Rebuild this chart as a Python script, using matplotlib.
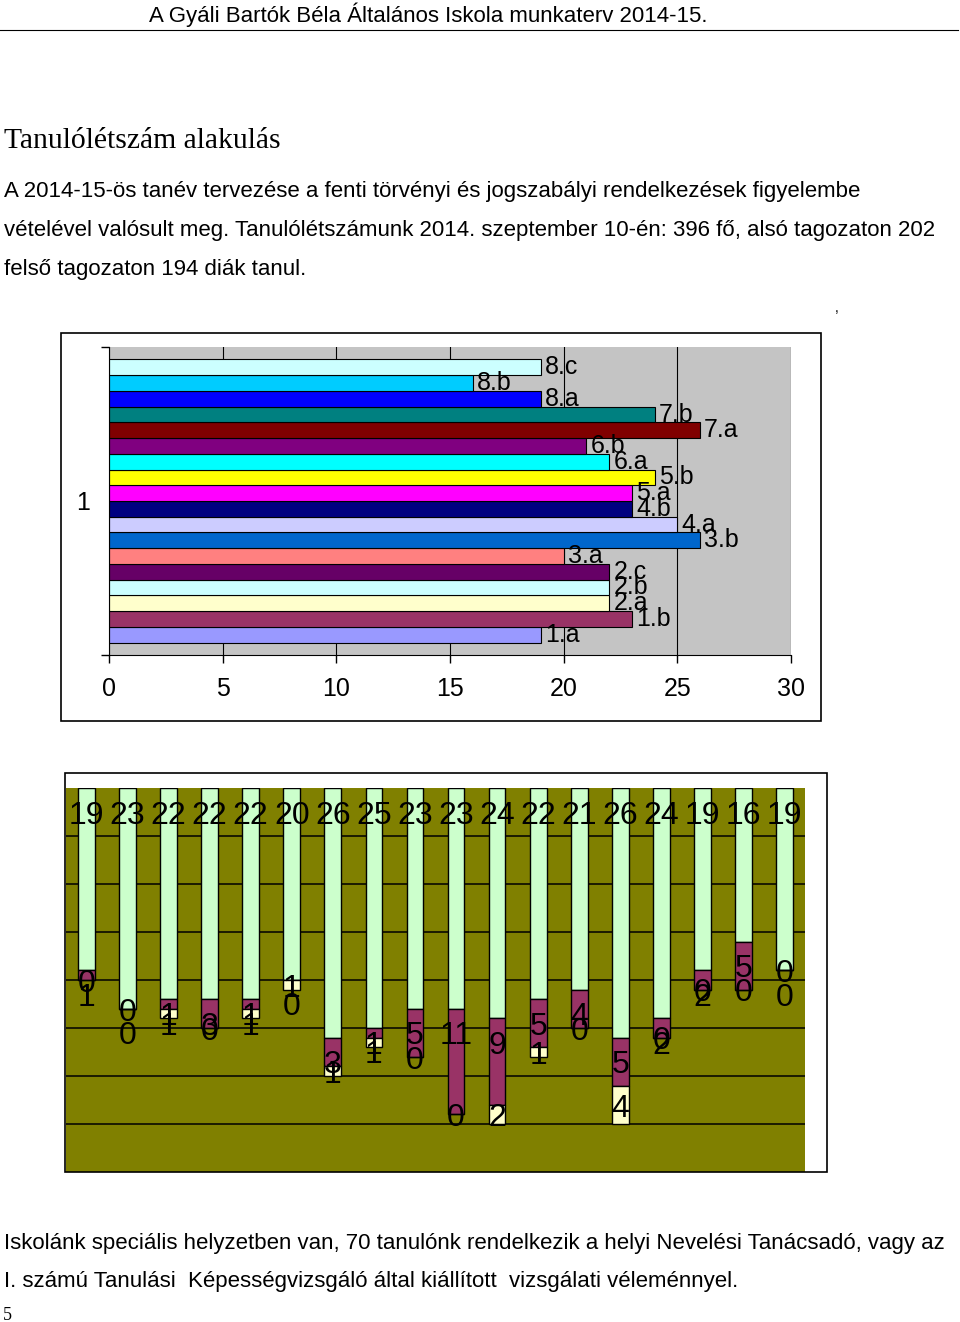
import matplotlib
matplotlib.use('Agg')
import matplotlib.pyplot as plt
import numpy as np
from matplotlib.patches import Rectangle
from matplotlib.lines import Line2D

plt.rcParams['font.family'] = ['Liberation Sans', 'DejaVu Sans']

# data (2014 szeptember, osztalyletszamok)
classes = ['1.a', '1.b', '2.a', '2.b', '2.c', '3.a', '3.b', '4.a', '4.b',
           '5.a', '5.b', '6.a', '6.b', '7.a', '7.b', '8.a', '8.b', '8.c']
letszam = [19, 23, 22, 22, 22, 20, 26, 25, 23, 23, 24, 22, 21, 26, 24, 19, 16, 19]
lila = [1, 0, 1, 3, 1, 0, 3, 1, 5, 11, 9, 5, 4, 5, 2, 2, 5, 0]
sarga = [0, 0, 1, 0, 1, 1, 1, 1, 0, 0, 2, 1, 0, 4, 0, 0, 0, 0]

colors1 = ['#9999FF', '#993366', '#FFFFCC', '#CCFFFF', '#660066', '#FF8080',
           '#0066CC', '#CCCCFF', '#000080', '#FF00FF', '#FFFF00', '#00FFFF',
           '#800080', '#800000', '#008080', '#0000FF', '#00CCFF', '#CCFFFF']

W, H = 960, 1322


def fx(x):
    return x / W


def fy(y):
    return 1 - y / H


fig = plt.figure(figsize=(9.6, 13.22), dpi=100)

# page text
fig.text(fx(428.5), fy(22), 'A Gyáli Bartók Béla Általános Iskola munkaterv 2014-15.',
         ha='center', va='baseline', fontsize=16)
fig.add_artist(Line2D([0, 958 / W], [fy(29.5), fy(29.5)], color='black', lw=0.8))
fig.text(fx(4), fy(148), 'Tanulólétszám alakulás', family='Liberation Serif',
         fontsize=21.3, va='baseline')
para = ['A 2014-15-ös tanév tervezése a fenti törvényi és jogszabályi rendelkezések figyelembe',
        'vételével valósult meg. Tanulólétszámunk 2014. szeptember 10-én: 396 fő, alsó tagozaton 202',
        'felső tagozaton 194 diák tanul.']
for txt, yb in zip(para, [197, 236, 275]):
    fig.text(fx(4), fy(yb), txt, fontsize=16, va='baseline')
fig.text(fx(835), fy(312), ',', fontsize=10, va='baseline')

footer = ['Iskolánk speciális helyzetben van, 70 tanulónk rendelkezik a helyi Nevelési Tanácsadó, vagy az',
          'I. számú Tanulási  Képességvizsgáló által kiállított  vizsgálati véleménnyel.']
for txt, yb in zip(footer, [1249, 1287]):
    fig.text(fx(4), fy(yb), txt, fontsize=16, va='baseline')
fig.text(fx(3), fy(1320), '5', family='Liberation Serif', fontsize=13, va='baseline')

# chart 1 - horizontal bars
fig.add_artist(Rectangle((fx(61), fy(721)), (821 - 61) / W, (721 - 333) / H,
                         transform=fig.transFigure, fill=False, ec='black', lw=1.2))
ax1 = fig.add_axes([fx(109), fy(655), 682 / W, 308 / H])
ax1.set_facecolor('#C4C4C4')
h = 0.919 / len(classes)
for i, (name, v, c) in enumerate(zip(classes, letszam, colors1)):
    yc = -0.4595 + h * (i + 0.5)
    bars = ax1.barh(yc, v, height=h, color=c, edgecolor='black', lw=0.8)
    ax1.bar_label(bars, labels=[name], padding=3, fontsize=18)
ax1.set_xlim(0, 30)
ax1.set_ylim(-0.5, 0.5)
ax1.set_xticks(range(0, 31, 5))
ax1.xaxis.grid(True, color='black', lw=0.8)
ax1.set_axisbelow(True)
ax1.set_yticks([0])
ax1.set_yticklabels(['1'])
ax1.set_yticks([-0.5, 0.5], minor=True)
ax1.tick_params(axis='y', which='major', length=0, pad=14, labelsize=18)
ax1.tick_params(axis='y', which='minor', length=6, width=1)
ax1.tick_params(axis='x', length=6, width=1, pad=10, labelsize=18)
ax1.spines['top'].set_visible(False)
ax1.spines['right'].set_visible(False)

# chart 2 - stacked columns, reversed axis
fig.add_artist(Rectangle((fx(65), fy(1172)), (827 - 65) / W, (1172 - 773) / H,
                         transform=fig.transFigure, fill=False, ec='black', lw=1.2, zorder=5))
ax2 = fig.add_axes([fx(66), fy(1172), 739 / W, 384 / H])
ax2.set_facecolor('#808000')
x = np.arange(len(classes))
g = np.array(letszam)
p = np.array(lila)
s = np.array(sarga)
ax2.bar(x, g, width=0.41, color='#CCFFCC', edgecolor='black', lw=1.0)
ax2.bar(x, p, bottom=g, width=0.41, color='#993366', edgecolor='black', lw=1.0)
ax2.bar(x, s, bottom=g + p, width=0.41, color='#FFFFCC', edgecolor='black', lw=1.0)
for i in range(len(classes)):
    ax2.text(i, 2.9, str(g[i]), ha='center', va='center', fontsize=23)
    ax2.text(i, g[i] + 2.85, str(p[i]), ha='center', va='center', fontsize=23)
    ax2.text(i, g[i] + p[i] + s[i] / 2 + 0.4, str(s[i]), ha='center', va='center', fontsize=23)
ax2.set_xlim(-0.5, 17.5)
ax2.set_ylim(40, 0)
ax2.set_yticks(range(5, 40, 5))
ax2.yaxis.grid(True, color='black', lw=1.1)
ax2.set_axisbelow(True)
ax2.tick_params(length=0, labelleft=False, labelbottom=False)
for sp in ax2.spines.values():
    sp.set_visible(False)

fig.savefig('out.png', dpi=100)
